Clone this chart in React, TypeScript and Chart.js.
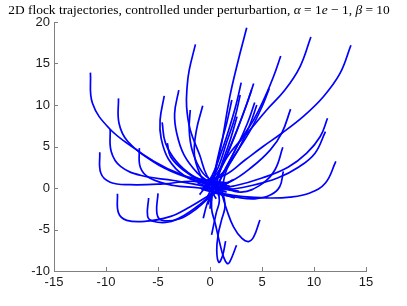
import React, { useEffect, useRef } from "react";
import { Chart, registerables } from "chart.js";

Chart.register(...registerables);

type Pt = [number, number];

const xTicks = [-15, -10, -5, 0, 5, 10, 15];
const yTicks = [-10, -5, 0, 5, 10, 15, 20];

// trajectories starting in the upper-left
const upperLeftPaths: Pt[][] = [
  [[-11.5, 13.9], [-11.3, 10.2], [-9.7, 7.2], [-7.3, 4.8], [-4.4, 2.4], [-1.5, 1.0], [0.5, 0.6], [2.2, -0.2]],
  [[-8.8, 10.8], [-8.75, 7.8], [-7.9, 5.6], [-5.5, 3.3], [-2.5, 1.5], [-0.3, 0.9], [1.8, 0.6]],
  [[-9.6, 7.1], [-9.5, 4.4], [-8.6, 2.6], [-6.6, 1.5], [-3.5, 0.9], [-0.5, 0.2], [1.6, -0.5]],
  [[-10.6, 4.3], [-10.5, 1.8], [-9.6, 0.7], [-7.7, 0.4], [-4.5, 0.5], [-1.5, 0.8], [0.8, 0.1], [2.8, -0.4]],
  [[-6.8, 4.8], [-6.7, 2.5], [-5.8, 1.2], [-3.5, 0.3], [-1.0, 0.0], [0.8, -0.6], [2.4, -1.2]],
];

// trajectories starting above the centre, left of x = 0
const upperCentrePaths: Pt[][] = [
  [[-4.4, 11.1], [-4.8, 8.2], [-4.7, 6.0], [-4.0, 3.5], [-2.5, 1.5], [-0.5, 0.5], [1.4, -0.2]],
  [[-4.6, 7.9], [-4.3, 5.5], [-3.3, 3.3], [-1.7, 1.5], [-0.2, 0.8], [1.6, 0.6]],
  [[-3.0, 11.8], [-3.4, 9.0], [-3.2, 6.6], [-2.5, 4.0], [-1.2, 1.8], [0.0, 0.6], [1.2, -0.9]],
  [[-1.4, 17.3], [-2.0, 14.2], [-2.2, 12.2], [-2.25, 9.8], [-1.9, 7.0], [-1.0, 4.0], [-0.3, 1.5], [0.8, -0.2]],
  [[-0.7, 9.9], [-1.3, 7.0], [-1.5, 4.0], [-0.9, 1.5], [-0.2, 0.2], [0.6, -1.3]],
  [[-1.9, 9.4], [-2.0, 7.0], [-1.7, 4.5], [-0.8, 2.0], [0.2, 0.9], [1.9, 0.2]],
  [[-4.1, 5.4], [-3.8, 3.8], [-2.6, 2.2], [-0.8, 0.8], [0.5, 0.3], [2.0, -0.3]],
];

// trajectories starting in the upper-right fan
const upperRightPaths: Pt[][] = [
  [[3.53, 19.3], [2.72, 15.4], [1.92, 11.1], [1.12, 5.4], [0.6, 2.5], [0.3, 0.5], [-0.3, -1.2]],
  [[9.7, 18.2], [8.65, 14.6], [7.2, 11.8], [5.45, 9.4], [3.85, 7.0], [1.9, 4.2], [0.7, 1.8], [-0.5, 0.5]],
  [[13.55, 17.2], [12.5, 13.8], [10.9, 11.0], [8.95, 8.6], [6.9, 6.6], [5.1, 5.0], [3.4, 3.4], [1.5, 1.6], [-0.5, 0.9]],
  [[6.8, 15.9], [6.1, 13.4], [5.3, 11.0], [4.2, 8.2], [2.8, 5.5], [1.8, 3.0], [1.0, 1.0], [0.4, -0.8]],
  [[3.0, 12.7], [2.5, 10.0], [1.8, 7.0], [1.0, 4.0], [0.2, 1.5], [-0.8, -0.3]],
  [[4.2, 12.6], [3.5, 10.0], [2.6, 7.0], [1.6, 4.0], [0.9, 1.8], [0.5, -0.5]],
  [[4.0, 11.8], [3.3, 9.3], [2.4, 6.3], [1.4, 3.3], [0.6, 1.0], [-0.2, -2.0]],
  [[5.7, 12.0], [5.0, 9.8], [3.9, 7.0], [2.4, 4.0], [1.2, 1.8], [0.0, 0.8]],
  [[2.9, 11.2], [2.4, 8.5], [1.6, 5.5], [0.8, 2.5], [0.0, 0.8], [-1.0, -0.8]],
  [[2.1, 10.6], [1.6, 7.8], [1.0, 5.0], [0.5, 2.2], [0.2, 0.0], [0.0, -2.5]],
  [[4.3, 10.3], [3.6, 7.8], [2.6, 5.0], [1.5, 2.4], [0.8, 0.6], [0.2, -0.4]],
  [[4.5, 10.0], [3.8, 7.5], [2.8, 4.8], [1.6, 2.2], [1.2, 0.3], [0.8, -1.0]],
  [[2.6, 8.6], [2.0, 6.0], [1.3, 3.5], [0.5, 1.0], [-0.5, -0.2]],
];

// trajectories starting on the right
const rightPaths: Pt[][] = [
  [[7.75, 9.5], [6.9, 6.6], [5.8, 4.6], [4.0, 2.5], [2.0, 0.8], [0.5, 0.4], [-1.0, 0.9]],
  [[11.3, 8.4], [10.6, 6.2], [9.3, 4.2], [7.5, 2.5], [5.0, 1.2], [2.5, 0.3], [0.5, 0.0], [-1.2, 0.6]],
  [[11.1, 6.8], [10.1, 4.2], [8.5, 2.5], [6.5, 1.2], [4.0, 0.3], [1.5, -0.2], [-0.8, 0.0]],
  [[12.1, 3.2], [11.1, 0.6], [9.6, -0.6], [7.7, -1.1], [5.45, -1.2], [3.2, -1.05], [1.0, -0.6], [-1.0, 0.0]],
  [[7.05, 2.0], [6.7, 0.15], [5.8, -0.85], [4.3, -1.3], [2.5, -1.1], [0.8, -0.7], [-0.6, -0.2]],
  [[7.0, 4.9], [6.25, 2.2], [5.0, 0.5], [3.0, -0.5], [1.0, 0.2], [-0.5, 0.7]],
];

// trajectories starting low
const lowerPaths: Pt[][] = [
  [[-8.9, -0.7], [-8.8, -3.0], [-8.0, -3.9], [-6.1, -4.0], [-3.85, -3.45], [-1.9, -2.25], [-0.3, -1.05], [1.2, 0.2], [2.2, 1.0]],
  [[-5.9, -1.2], [-6.0, -3.4], [-5.5, -4.0], [-4.0, -4.1], [-2.5, -3.3], [-1.0, -2.0], [0.3, -0.6], [1.6, 0.5]],
  [[-5.0, -0.65], [-5.1, -3.1], [-4.6, -3.9], [-2.9, -3.7], [-1.3, -2.5], [0.3, -0.7], [1.4, 0.6]],
  [[4.8, -3.85], [4.2, -5.9], [3.7, -6.45], [3.05, -6.05], [2.25, -4.65], [1.6, -2.6], [1.2, -1.0], [0.8, 0.2]],
  [[2.55, -6.9], [1.9, -8.9], [1.65, -9.1], [1.3, -8.3], [0.95, -6.7], [0.5, -4.25], [0.15, -2.45], [0.3, 0.3]],
  [[1.5, -6.4], [1.2, -8.2], [0.85, -8.95], [0.65, -7.5], [0.8, -5.5], [1.1, -3.9], [1.45, -2.05], [1.0, 0.4]],
  [[0.15, -5.65], [0.6, -3.0], [0.9, -1.5], [0.6, 0.5]],
  [[-0.65, -3.65], [-0.3, -2.0], [0.2, -0.5], [0.8, 0.8]],
];

const allPaths: Pt[][] = [
  ...upperLeftPaths,
  ...upperCentrePaths,
  ...upperRightPaths,
  ...rightPaths,
  ...lowerPaths,
];

const titleParts: { text: string; italic: boolean }[] = [
  { text: "2D flock trajectories, controlled under perturbartion, ", italic: false },
  { text: "α", italic: true },
  { text: " = 1", italic: false },
  { text: "e", italic: true },
  { text: " − 1, ", italic: false },
  { text: "β", italic: true },
  { text: " = 10", italic: false },
];

const AXIS_COLOR = "#808080";
const LABEL_COLOR = "#1a1a1a";

const titlePlugin = {
  id: "mtitle",
  afterDraw(chart: any) {
    const ctx = chart.ctx as CanvasRenderingContext2D;
    const family = "'Liberation Serif', 'DejaVu Serif', serif";
    const targetWidth = 382;
    let size = 13;
    const measure = (s: number) => {
      let w = 0;
      for (const p of titleParts) {
        ctx.font = `${p.italic ? "italic " : ""}${s}px ${family}`;
        w += ctx.measureText(p.text).width;
      }
      return w;
    };
    ctx.save();
    const w0 = measure(size);
    size = (size * targetWidth) / w0;
    const total = measure(size);
    let x = 199 - total / 2;
    ctx.fillStyle = "#000";
    ctx.textBaseline = "alphabetic";
    ctx.textAlign = "left";
    for (const p of titleParts) {
      ctx.font = `${p.italic ? "italic " : ""}${size}px ${family}`;
      ctx.fillText(p.text, x, 14);
      x += ctx.measureText(p.text).width;
    }
    ctx.restore();
  },
};

const ticksPlugin = {
  id: "inticks",
  afterDraw(chart: any) {
    const { ctx, chartArea, scales } = chart;
    const xs = scales.x;
    const ys = scales.y;
    ctx.save();
    ctx.strokeStyle = AXIS_COLOR;
    ctx.lineWidth = 1;
    ctx.beginPath();
    for (const v of xTicks) {
      const px = Math.round(xs.getPixelForValue(v)) + 0.5;
      ctx.moveTo(px, chartArea.bottom);
      ctx.lineTo(px, chartArea.bottom - 4);
    }
    for (const v of yTicks) {
      const py = Math.round(ys.getPixelForValue(v)) + 0.5;
      ctx.moveTo(chartArea.left, py);
      ctx.lineTo(chartArea.left + 4, py);
    }
    ctx.stroke();
    ctx.restore();
  },
};

export default function App() {
  const ref = useRef<HTMLCanvasElement | null>(null);
  useEffect(() => {
    if (!ref.current) return;
    const chart = new Chart(ref.current, {
      type: "scatter",
      data: {
        datasets: allPaths.map((p) => ({
          data: p.map(([x, y]) => ({ x, y })),
          showLine: true,
          borderColor: "rgb(0,0,255)",
          backgroundColor: "rgb(0,0,255)",
          borderWidth: 1.7,
          pointRadius: 0,
          tension: 0.4,
          fill: false,
        })),
      },
      options: {
        animation: false,
        responsive: false,
        events: [],
        layout: { padding: { top: 22, right: 41, left: 0, bottom: 0 } },
        plugins: {
          legend: { display: false },
          title: { display: false },
          tooltip: { enabled: false },
        },
        scales: {
          x: {
            type: "linear",
            min: -15,
            max: 15,
            afterBuildTicks: (s: any) => {
              s.ticks = xTicks.map((v) => ({ value: v }));
            },
            afterFit: (s: any) => {
              s.height = 35;
            },
            grid: { display: false, drawTicks: false },
            border: { display: true, color: AXIS_COLOR, width: 1 },
            ticks: {
              color: LABEL_COLOR,
              padding: 4,
              maxRotation: 0,
              font: { family: "'Liberation Sans', Arial, sans-serif", size: 13 },
            },
          },
          y: {
            type: "linear",
            min: -10,
            max: 20,
            afterBuildTicks: (s: any) => {
              s.ticks = yTicks.map((v) => ({ value: v }));
            },
            afterFit: (s: any) => {
              s.width = 54;
            },
            grid: { display: false, drawTicks: false },
            border: { display: true, color: AXIS_COLOR, width: 1 },
            ticks: {
              color: LABEL_COLOR,
              padding: 4,
              font: { family: "'Liberation Sans', Arial, sans-serif", size: 13 },
            },
          },
        },
      },
      plugins: [titlePlugin, ticksPlugin],
    });
    return () => chart.destroy();
  }, []);
  return (
    <div style={{ position: "fixed", left: 0, top: 0, width: 407, height: 306, background: "#fff" }}>
      <canvas ref={ref} width={407} height={306} style={{ width: 407, height: 306, display: "block" }} />
    </div>
  );
}
